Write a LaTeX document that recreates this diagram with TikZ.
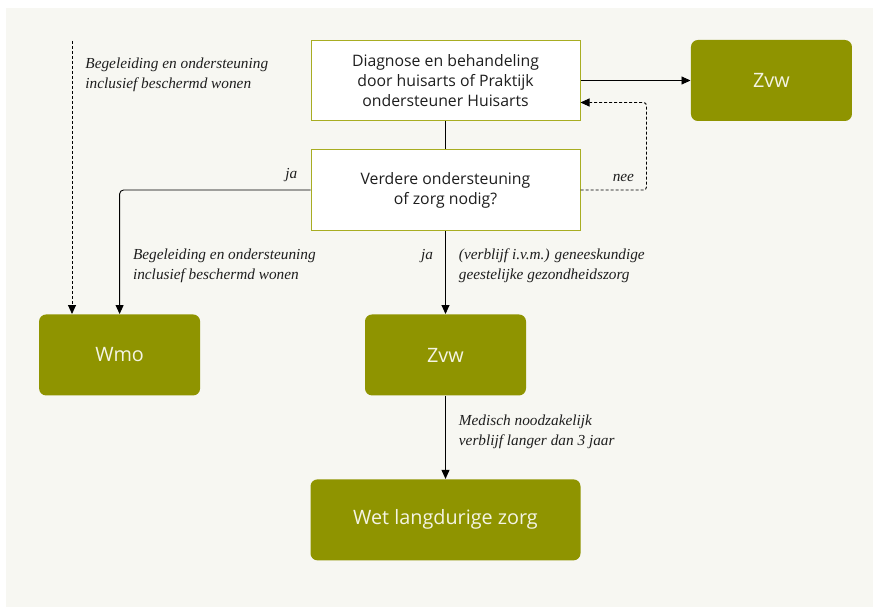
\documentclass[tikz,border=0pt]{standalone}
\usepackage{fontspec}
\usetikzlibrary{positioning, arrows.meta}
\usepackage{xcolor}
\newfontfamily\boxfont{Open Sans}
\newfontfamily\notefont{Liberation Serif}
\definecolor{rijksOlive}{HTML}{8F9400}
\definecolor{rijksOliveLine}{HTML}{A8AD22}
\definecolor{rijksBack}{HTML}{F7F7F2}
\definecolor{rijksText}{HTML}{1E1E1E}
\definecolor{rijksLight}{HTML}{F4F4E4}

\begin{document}
\begin{tikzpicture}[
    x=1pt, y=-1pt,
    >={Triangle[length=9pt,width=8pt]},
    line width=0.9pt,
    stepbox/.style={draw=rijksOliveLine, fill=white, line width=1pt, minimum width=269pt, minimum height=80pt, align=center, text=rijksText, font=\boxfont\fontsize{15.8}{20}\selectfont},
    lawbox/.style={fill=rijksOlive, rounded corners=7pt, minimum width=161pt, minimum height=81pt, text=rijksLight, font=\boxfont\fontsize{19.8}{24}\selectfont},
    note/.style={align=left, inner sep=2pt, text=rijksText, font=\notefont\itshape\fontsize{15.3}{20}\selectfont},
    flow/.style={draw=black, ->},
    optional/.style={draw=black, ->, dash pattern=on 3pt off 2pt}
]
    \useasboundingbox (0,0) rectangle (873,607);
    \fill[rijksBack] (6,8) rectangle (873,607);

    \node[stepbox] (diag) at (445.5,80.5) {Diagnose en behandeling\\door huisarts of Praktijk\\ondersteuner Huisarts};
    \node[stepbox, minimum height=81pt, below=28pt of diag] (vraag) {Verdere ondersteuning\\of zorg nodig?};
    \node[lawbox, right=110pt of diag] (zvwtop) {Zvw};
    \node[lawbox, below=83pt of vraag] (zvw) {Zvw};
    \node[lawbox, left=164pt of zvw] (wmo) {Wmo};
    \node[lawbox, minimum width=270pt, below=83pt of zvw] (wlz) {Wet langdurige zorg};
    \coordinate (wmoin) at (72,41);

    % Hoofdlijn
    \draw (diag) -- (vraag);
    \draw[flow] (diag.east) -- (diag.east -| zvwtop.west);

    % nee: terug naar de huisarts
    \draw[optional, rounded corners=3pt] (vraag.east) -- node[note, above, pos=0.65, yshift=6pt]{nee} ++(66,0) |- ([yshift=-22pt]diag.east);

    % ja: naar Wmo
    \draw[flow, rounded corners=4pt] (vraag.west) -| node[note, above, pos=0.05, yshift=6pt]{ja}
        node[note, anchor=west, pos=0.805, xshift=11pt]{Begeleiding en ondersteuning\\inclusief beschermd wonen} (wmo.north);
    \draw[optional] (wmoin) -- node[note, anchor=west, pos=0.125, xshift=11pt]{Begeleiding en ondersteuning\\inclusief beschermd wonen} (wmoin |- wmo.north);

    % ja: naar Zvw en Wlz
    \draw[flow] (vraag) -- node[note, anchor=east, pos=0.3, xshift=-10pt]{ja}
        node[note, anchor=west, pos=0.42, xshift=11pt]{(verblijf i.v.m.) geneeskundige\\geestelijke gezondheidszorg} (zvw);
    \draw[flow] (zvw) -- node[note, anchor=west, pos=0.43, xshift=11pt]{Medisch noodzakelijk\\verblijf langer dan 3 jaar} (wlz);
\end{tikzpicture}
\end{document}
